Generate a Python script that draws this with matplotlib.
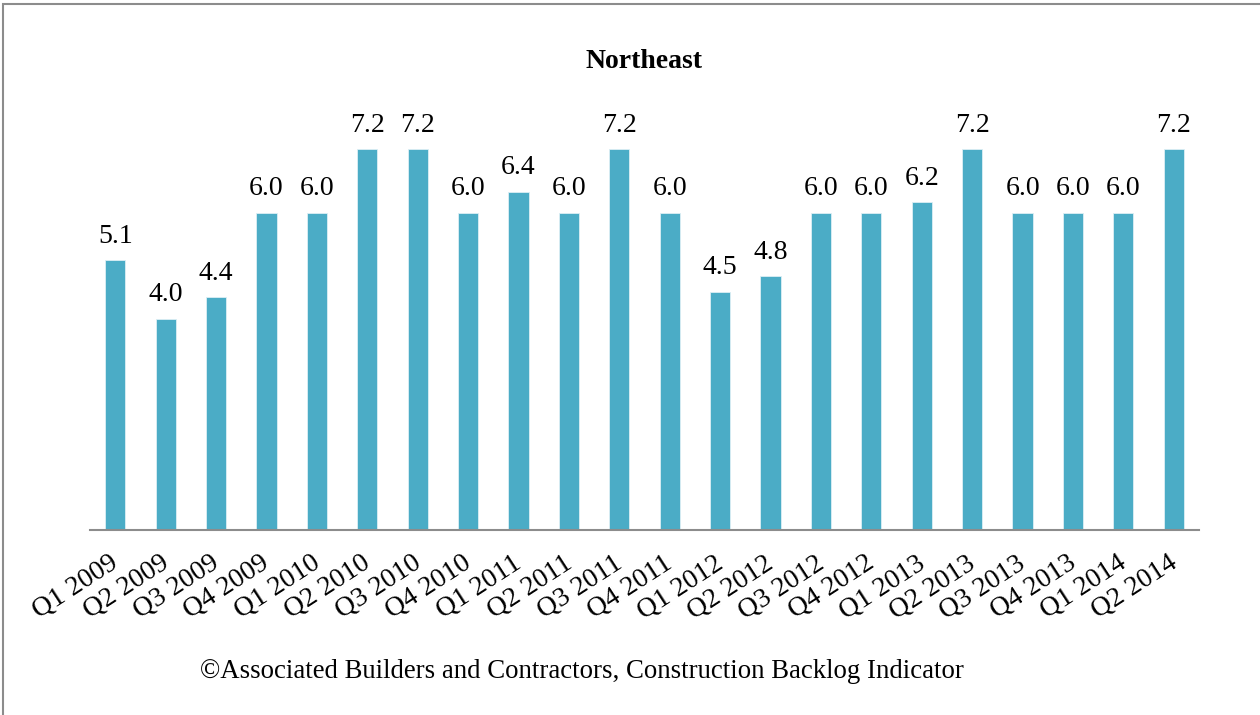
import matplotlib
matplotlib.use("Agg")
import matplotlib.pyplot as plt
from matplotlib.patches import Rectangle
from matplotlib.transforms import ScaledTranslation

categories = ["Q1 2009", "Q2 2009", "Q3 2009", "Q4 2009", "Q1 2010", "Q2 2010",
              "Q3 2010", "Q4 2010", "Q1 2011", "Q2 2011", "Q3 2011", "Q4 2011",
              "Q1 2012", "Q2 2012", "Q3 2012", "Q4 2012", "Q1 2013", "Q2 2013",
              "Q3 2013", "Q4 2013", "Q1 2014", "Q2 2014"]
values = [5.1, 4.0, 4.4, 6.0, 6.0, 7.2, 7.2, 6.0, 6.4, 6.0, 7.2, 6.0,
          4.5, 4.8, 6.0, 6.0, 6.2, 7.2, 6.0, 6.0, 6.0, 7.2]
title = "Northeast"
footer = "\u00a9Associated Builders and Contractors, Construction Backlog Indicator"

plt.rcParams['font.family'] = ['Liberation Serif', 'DejaVu Serif']

W, H = 1260, 715
fig = plt.figure(figsize=(W / 100, H / 100), dpi=100)
ax_left, ax_right = 90 / W, 1199 / W
ax_bottom = 1 - 530 / H
ax_top = 1 - 107 / H
ax = fig.add_axes([ax_left, ax_bottom, ax_right - ax_left, ax_top - ax_bottom])

x = list(range(len(categories)))
ax.bar(x, values, width=0.4, color="#4BACC6", edgecolor="#DDEFF5", linewidth=0.6)
ax.set_xlim(-0.5, len(categories) - 0.5)
ax.set_ylim(0, 8)

for xi, v in zip(x, values):
    ax.text(xi, v + 0.22, f"{v:.1f}", ha="center", va="bottom", fontsize=20)

ax.set_xticks(x)
ax.set_xticklabels(categories, rotation=33, ha="right", rotation_mode="anchor", fontsize=20)
ax.tick_params(axis="x", length=0, pad=15)
offset = ScaledTranslation(-6 / 100, 0, fig.dpi_scale_trans)
for lbl in ax.get_xticklabels():
    lbl.set_transform(lbl.get_transform() + offset)
ax.set_yticks([])
for s in ["top", "right", "left"]:
    ax.spines[s].set_visible(False)
ax.spines["bottom"].set_color("#8C8C8C")
ax.spines["bottom"].set_linewidth(1.5)

fig.text(644 / W, 1 - 62 / H, title, ha="center", va="center", fontsize=20, fontweight="bold")
fig.text(200 / W, 1 - 672 / H, footer, ha="left", va="center", fontsize=19.3)

fig.patches.append(Rectangle((3 / W, -0.1), 1.1, 1 - 4 / H + 0.1, transform=fig.transFigure,
                             fill=False, edgecolor="#8C8C8C", linewidth=1.5))

fig.savefig("out.png", dpi=100)
